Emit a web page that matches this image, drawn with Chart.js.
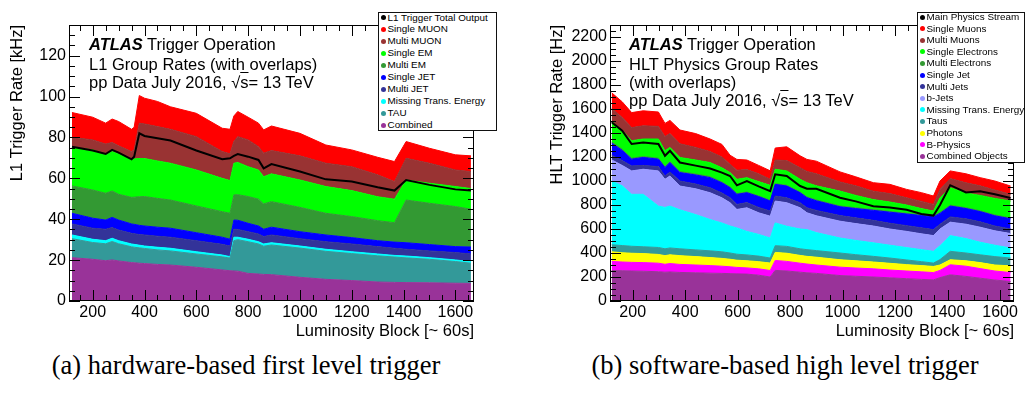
<!DOCTYPE html>
<html>
<head>
<meta charset="utf-8">
<script src="https://cdn.jsdelivr.net/npm/chart.js@4.4.1/dist/chart.umd.min.js"></script>
<style>
  body { margin: 0; width: 1025px; height: 407px; position: relative; overflow: hidden; background: #fff;
         font-family: "Liberation Sans", Arial, sans-serif; color: #000; }
  canvas { position: absolute; top: 0; }
  .txt { position: absolute; font-size: 16.5px; line-height: 19px; white-space: nowrap; }
  .leg { position: absolute; box-sizing: border-box; background: #fff; border: 1px solid #111; font-size: 9.9px; }
  .leg div { position: absolute; white-space: nowrap; line-height: 12px; height: 12px; }
  .leg i { position: absolute; width: 5px; height: 5px; border-radius: 50%; }
  .cap { position: absolute; font-family: "Liberation Serif", "Times New Roman", serif; font-size: 26.5px;
         line-height: 27px; white-space: nowrap; transform: translateX(-50%); }
</style>
</head>
<body>
<canvas id="l1" width="512" height="345" style="left:0"></canvas>
<canvas id="hlt" width="513" height="345" style="left:512px"></canvas>

<div class="txt" style="left:89px;top:35px"><b><i>ATLAS</i></b> Trigger Operation</div>
<div class="txt" style="left:89px;top:55px">L1 Group Rates (with overlaps)</div>
<div class="txt" style="left:89px;top:73px">pp Data July 2016, √<span style="text-decoration:overline">s</span>= 13 TeV</div>

<div class="txt" style="left:629px;top:35px"><b><i>ATLAS</i></b> Trigger Operation</div>
<div class="txt" style="left:629px;top:55px">HLT Physics Group Rates</div>
<div class="txt" style="left:629px;top:73px">(with overlaps)</div>
<div class="txt" style="left:629px;top:91px">pp Data July 2016, √<span style="text-decoration:overline">s</span>= 13 TeV</div>

<div id="legL1" class="leg" style="left:378px;top:12px;width:119px;height:119px"></div>
<div id="legHLT" class="leg" style="left:917px;top:12px;width:108px;height:151px"></div>

<div class="cap" style="left:246px;top:352px">(a) hardware-based first level trigger</div>
<div class="cap" style="left:785px;top:352px">(b) software-based high level trigger</div>

<script>
// ---- L1 group rates [kHz], stacked bottom to top ----
const lbL1 = [120, 200, 250, 275, 300, 350, 360, 380, 400, 450, 500, 600, 700, 730, 745, 760, 800, 840, 860, 890, 1000, 1100, 1200, 1300, 1365, 1410, 1500, 1600, 1660];
const l1Combined = [21.2, 20.4, 19.7, 20.1, 19.6, 18.8, 18.7, 18.5, 18.3, 17.9, 17.6, 16.5, 15.2, 14.8, 14.7, 14.6, 13.5, 13.2, 13.0, 12.9, 11.6, 10.6, 10.0, 9.3, 9.1, 9.0, 8.9, 8.7, 8.6];
const l1Tau = [9.3, 8.2, 8.3, 9.0, 8.4, 7.7, 7.6, 7.5, 7.4, 7.1, 6.9, 6.5, 6.4, 6.2, 14.8, 15.4, 15.5, 14.7, 13.8, 14.5, 14.3, 13.7, 13.2, 12.8, 12.4, 12.1, 11.5, 10.6, 9.9];
const l1Met = [1.8, 1.6, 1.5, 1.6, 1.5, 1.4, 1.4, 1.3, 1.2, 1.3, 1.3, 1.1, 0.9, 0.7, 1.7, 1.2, 1.2, 1.1, 1.1, 1.1, 1.0, 1.0, 0.9, 0.9, 0.8, 0.9, 0.8, 0.8, 0.7];
const l1MultiJet = [5.4, 5.4, 5.6, 5.2, 5.2, 5.2, 5.2, 5.2, 5.4, 5.4, 5.4, 5.4, 5.2, 5.2, 3.9, 3.8, 3.7, 3.8, 3.6, 3.8, 3.6, 3.7, 3.8, 3.6, 3.5, 3.3, 3.3, 3.6, 3.8];
const l1SingleJet = [5.2, 4.9, 4.5, 5.0, 4.9, 4.6, 4.6, 4.5, 4.4, 4.4, 4.4, 3.9, 3.5, 3.3, 4.5, 4.5, 4.1, 3.9, 3.6, 3.8, 3.4, 3.3, 3.1, 2.9, 3.0, 3.2, 3.1, 2.9, 3.4];
const l1MultiEm = [13.4, 13.8, 13.1, 12.9, 12.6, 13.0, 13.3, 14.0, 14.4, 14.1, 13.8, 13.1, 12.5, 12.7, 12.3, 12.5, 13.1, 13.1, 12.4, 12.5, 11.9, 10.6, 10.3, 9.8, 9.5, 20.9, 20.2, 19.6, 18.5];
const l1SingleEm = [18.9, 19.6, 19.1, 19.3, 19.7, 18.6, 18.7, 18.7, 18.6, 18.3, 18.0, 17.6, 16.3, 16.0, 15.5, 15.8, 14.6, 14.3, 13.3, 13.6, 13.4, 13.1, 12.7, 11.7, 11.5, 9.8, 9.8, 9.8, 10.1];
const l1MultiMuon = [4.9, 4.9, 5.0, 4.4, 4.0, 3.8, 4.5, 17.3, 16.9, 16.8, 16.6, 16.3, 13.1, 13.1, 10.6, 12.6, 13.1, 11.4, 11.5, 11.4, 11.8, 11.4, 11.7, 10.7, 8.6, 10.6, 9.8, 8.1, 8.3];
const l1SingleMuon = [12.1, 11.1, 10.2, 11.5, 11.9, 10.9, 11.0, 13.5, 12.6, 12.3, 11.0, 11.4, 11.4, 12.0, 12.5, 12.3, 11.1, 11.5, 11.4, 12.0, 11.0, 8.9, 8.2, 8.6, 9.8, 8.2, 7.3, 7.4, 7.7];
const l1Total = [75.5, 73.6, 71.9, 73.9, 72.6, 69.3, 70.6, 82.0, 80.7, 79.6, 78.5, 73.6, 69.3, 69.8, 71.0, 71.9, 70.6, 69.0, 64.9, 67.0, 63.3, 59.5, 58.4, 55.6, 54.0, 59.2, 56.8, 54.6, 54.0];

// ---- HLT physics group rates [Hz], stacked bottom to top ----
const lbHlt = [120, 160, 196, 240, 298, 323, 342, 380, 440, 495, 540, 571, 597, 635, 680, 724, 743, 787, 838, 864, 900, 990, 1050, 1117, 1180, 1244, 1300, 1346, 1371, 1410, 1470, 1524, 1580, 1640];
const hltCombined = [254, 252, 250, 248, 244, 240, 242, 238, 235, 232, 230, 228, 226, 224, 215, 200, 255, 250, 240, 235, 230, 212, 206, 200, 193, 186, 180, 176, 195, 218, 205, 190, 175, 162];
const hltBPhys = [76, 73, 72, 72, 71, 66, 70, 67, 65, 63, 60, 57, 54, 52, 53, 54, 83, 80, 75, 73, 70, 70, 69, 68, 65, 64, 63, 61, 60, 84, 85, 80, 75, 75];
const hltPhotons = [80, 77, 76, 75, 73, 72, 73, 73, 70, 67, 65, 63, 60, 59, 60, 62, 67, 68, 65, 64, 65, 62, 60, 57, 56, 53, 52, 51, 45, 42, 45, 50, 50, 56];
const hltTaus = [59, 60, 58, 57, 58, 57, 57, 57, 56, 56, 55, 52, 50, 49, 46, 42, 56, 57, 55, 56, 55, 56, 51, 47, 44, 39, 33, 28, 45, 70, 65, 65, 70, 65];
const hltMet = [531, 498, 433, 437, 345, 345, 349, 325, 294, 261, 240, 225, 219, 196, 181, 167, 190, 168, 165, 167, 150, 125, 119, 113, 107, 103, 100, 98, 115, 131, 120, 105, 95, 83];
const hltBJets = [176, 170, 195, 209, 293, 234, 251, 198, 215, 223, 210, 194, 154, 197, 180, 182, 182, 196, 177, 140, 140, 140, 140, 140, 135, 135, 132, 131, 140, 112, 120, 125, 120, 121];
const hltMultiJets = [39, 40, 42, 32, 36, 28, 33, 42, 40, 42, 40, 42, 42, 43, 45, 42, 42, 41, 42, 42, 45, 47, 48, 47, 48, 48, 50, 50, 40, 44, 45, 45, 40, 39];
const hltSingleJet = [100, 85, 56, 66, 62, 70, 79, 70, 75, 84, 85, 83, 84, 82, 90, 84, 97, 98, 83, 84, 80, 73, 77, 83, 92, 97, 102, 106, 90, 90, 85, 85, 85, 84];
const hltMultiEle = [10, 10, 8, 8, 8, 8, 8, 8, 8, 8, 7, 6, 6, 6, 6, 6, 6, 6, 6, 6, 7, 7, 7, 7, 6, 6, 6, 5, 8, 7, 7, 7, 7, 7];
const hltSingleEle = [172, 155, 146, 146, 160, 132, 118, 118, 117, 118, 118, 120, 119, 120, 119, 125, 120, 120, 106, 119, 118, 124, 103, 83, 79, 69, 52, 43, 122, 146, 123, 128, 138, 141];
const hltMultiMu = [108, 110, 109, 110, 105, 118, 115, 114, 105, 91, 90, 70, 76, 67, 65, 50, 77, 86, 96, 94, 100, 76, 80, 70, 70, 60, 60, 56, 70, 76, 85, 80, 70, 56];
const hltSingleMu = [130, 130, 125, 125, 120, 110, 110, 115, 115, 105, 105, 75, 90, 80, 70, 71, 100, 115, 100, 100, 105, 84, 75, 71, 77, 70, 73, 70, 70, 64, 75, 68, 75, 69];
const hltMain = [1490, 1420, 1308, 1320, 1308, 1210, 1252, 1154, 1128, 1104, 1070, 1042, 964, 1000, 955, 916, 1056, 1042, 958, 936, 935, 861, 830, 790, 780, 760, 725, 712, 800, 965, 905, 915, 890, 858];

// tick labels
const lbTicks = [200, 400, 600, 800, 1000, 1200, 1400, 1600];
const l1Ticks = [0, 20, 40, 60, 80, 100, 120];
const hltTicks = [0, 200, 400, 600, 800, 1000, 1200, 1400, 1600, 1800, 2000, 2200];

Chart.defaults.font.family = '"Liberation Sans", Arial, sans-serif';
Chart.defaults.color = '#000';

// ROOT-like frame: box plus inward major/minor ticks on all four sides
const rootFrame = {
  id: 'rootFrame',
  afterDraw(chart, args, o) {
    const { ctx, chartArea: a, scales: { x, y } } = chart;
    ctx.save();
    ctx.strokeStyle = '#000';
    ctx.lineWidth = 1;
    ctx.beginPath();
    for (let v = 0; v <= y.max + 1e-6; v += o.yMinor) {
      const len = Math.abs(v / o.yMajor - Math.round(v / o.yMajor)) < 1e-6 ? 11 : 6;
      const py = Math.round(y.getPixelForValue(v)) + 0.5;
      ctx.moveTo(a.left, py); ctx.lineTo(a.left + len, py);
      ctx.moveTo(a.right, py); ctx.lineTo(a.right - len, py);
    }
    for (let v = Math.ceil(x.min / o.xMinor) * o.xMinor; v <= x.max; v += o.xMinor) {
      const len = v % o.xMajor === 0 ? 11 : 6;
      const px = Math.round(x.getPixelForValue(v)) + 0.5;
      ctx.moveTo(px, a.bottom); ctx.lineTo(px, a.bottom - len);
      ctx.moveTo(px, a.top); ctx.lineTo(px, a.top + len);
    }
    ctx.stroke();
    ctx.strokeRect(a.left + 0.5, a.top + 0.5, a.width - 1, a.height - 1);
    ctx.restore();
  }
};

function points(xs, ys) {
  return xs.map((x, i) => ({ x: x, y: ys[i] }));
}

function drawStack(id, cfg) {
  const datasets = cfg.bands.map((b, i) => ({
    label: b.name,
    data: points(cfg.lbs, b.values),
    backgroundColor: b.color,
    borderColor: b.color,
    borderWidth: 1,
    fill: i === 0 ? 'origin' : '-1',
    stack: 'groups'
  }));
  datasets.push({
    label: cfg.totalName,
    data: points(cfg.lbs, cfg.total),
    borderColor: '#000',
    borderWidth: 2,
    fill: false,
    stack: 'total',
    order: -1
  });

  new Chart(document.getElementById(id), {
    type: 'line',
    data: { datasets: datasets },
    plugins: [rootFrame],
    options: {
      responsive: false,
      animation: false,
      events: [],
      layout: { padding: { left: cfg.padLeft, right: cfg.padRight, top: 25, bottom: 0 } },
      elements: { point: { radius: 0 }, line: { tension: 0 } },
      plugins: {
        legend: { display: false },
        tooltip: { enabled: false },
        rootFrame: { xMajor: 200, xMinor: 50, yMajor: cfg.yMajor, yMinor: cfg.yMinor }
      },
      scales: {
        x: {
          type: 'linear',
          min: cfg.xMin,
          max: cfg.xMax,
          grid: { display: false, drawTicks: false },
          border: { display: false },
          afterBuildTicks: s => { s.ticks = lbTicks.map(v => ({ value: v })); },
          afterFit: s => { s.height = 44; },
          ticks: { font: { size: 16 }, padding: 2, maxRotation: 0, autoSkip: false, callback: v => String(v) },
          title: { display: true, text: 'Luminosity Block [~ 60s]', align: 'end', font: { size: 16.5 }, padding: { top: 4, bottom: 4 } }
        },
        y: {
          stacked: true,
          min: 0,
          max: cfg.yMax,
          grid: { display: false, drawTicks: false },
          border: { display: false },
          afterBuildTicks: s => { s.ticks = cfg.yTicks.map(v => ({ value: v })); },
          afterFit: s => { s.width = cfg.yWidth; },
          ticks: { font: { size: 16 }, padding: 3, callback: v => String(v) },
          title: { display: true, text: cfg.yTitle, align: 'end', font: { size: 16.5 }, padding: { top: 4, bottom: 4 } }
        }
      }
    }
  });
}

function fillLegend(id, entries, rowTop, rowStep) {
  const box = document.getElementById(id);
  entries.forEach((e, i) => {
    const row = document.createElement('div');
    row.style.top = (rowTop + i * rowStep) + 'px';
    row.style.left = '0px';
    row.innerHTML = '<i style="left:2px;top:3.5px;background:' + e.color + '"></i>' +
                    '<span style="position:absolute;left:8.5px">' + e.name + '</span>';
    box.appendChild(row);
  });
}

const l1Bands = [
  { name: 'Combined', color: '#993399', values: l1Combined },
  { name: 'TAU', color: '#339999', values: l1Tau },
  { name: 'Missing Trans. Energy', color: '#00ffff', values: l1Met },
  { name: 'Multi JET', color: '#333399', values: l1MultiJet },
  { name: 'Single JET', color: '#0000ff', values: l1SingleJet },
  { name: 'Multi EM', color: '#339933', values: l1MultiEm },
  { name: 'Single EM', color: '#00ff00', values: l1SingleEm },
  { name: 'Multi MUON', color: '#993333', values: l1MultiMuon },
  { name: 'Single MUON', color: '#ff0000', values: l1SingleMuon }
];

const hltBands = [
  { name: 'Combined Objects', color: '#993399', values: hltCombined },
  { name: 'B-Physics', color: '#ff00ff', values: hltBPhys },
  { name: 'Photons', color: '#ffff00', values: hltPhotons },
  { name: 'Taus', color: '#339999', values: hltTaus },
  { name: 'Missing Trans. Energy', color: '#00ffff', values: hltMet },
  { name: 'b-Jets', color: '#9999ff', values: hltBJets },
  { name: 'Multi Jets', color: '#333399', values: hltMultiJets },
  { name: 'Single Jet', color: '#0000ff', values: hltSingleJet },
  { name: 'Multi Electrons', color: '#339933', values: hltMultiEle },
  { name: 'Single Electrons', color: '#00ff00', values: hltSingleEle },
  { name: 'Multi Muons', color: '#993333', values: hltMultiMu },
  { name: 'Single Muons', color: '#ff0000', values: hltSingleMu }
];

drawStack('l1', {
  lbs: lbL1, bands: l1Bands, total: l1Total, totalName: 'L1 Trigger Total Output',
  xMin: 108.5, xMax: 1672, yMax: 135, yTicks: l1Ticks, yMajor: 20, yMinor: 5,
  yTitle: 'L1 Trigger Rate [kHz]', padLeft: 4, padRight: 38, yWidth: 65
});

drawStack('hlt', {
  lbs: lbHlt, bands: hltBands, total: hltMain, totalName: 'Main Physics Stream',
  xMin: 113.5, xMax: 1653, yMax: 2300, yTicks: hltTicks, yMajor: 200, yMinor: 50,
  yTitle: 'HLT Trigger Rate [Hz]', padLeft: 32, padRight: 11, yWidth: 66
});

// legends list the stack from top to bottom, total first
fillLegend('legL1', [{ name: 'L1 Trigger Total Output', color: '#000' }].concat(l1Bands.slice().reverse()), -1.5, 11.96);
fillLegend('legHLT', [{ name: 'Main Physics Stream', color: '#000' }].concat(hltBands.slice().reverse()), -2, 11.6);
</script>
</body>
</html>
